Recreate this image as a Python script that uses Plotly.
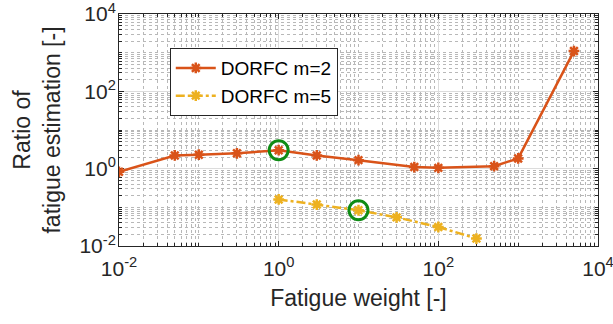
import plotly.graph_objects as go

# Data
w_m2 = [0.01, 0.05, 0.1, 0.3, 1, 3, 10, 50, 100, 500, 1000, 5000]
r_m2 = [0.83, 2.2, 2.3, 2.5, 3.0, 2.2, 1.66, 1.1, 1.05, 1.16, 1.84, 1100]
w_m5 = [1, 3, 10, 30, 100, 300]
r_m5 = [0.16, 0.118, 0.084, 0.055, 0.031, 0.0156]
w_sel = [1, 10]
r_sel = [3.0, 0.084]

tick_vals = [1e-2, 1, 1e2, 1e4]
x_tick_text = ["10<sup>-2</sup>", "10<sup>0</sup>", "10<sup>2</sup>", "10<sup>4</sup>"]
y_tick_text = ["10<sup>-2</sup>", "10<sup>0</sup>", "10<sup>2</sup>", "10<sup>4</sup>"]

FONT = "Liberation Sans, Arial, Helvetica"
INK = "#262626"

def minor_vals(lo, hi):
    vals = []
    for e in range(lo, hi):
        for m in range(1, 10):
            v = m * 10 ** e
            if v not in tick_vals:
                vals.append(v)
    return vals

fig = go.Figure()
fig.add_trace(go.Scatter(
    x=w_m2, y=r_m2, mode="lines+markers", name="DORFC m=2",
    line=dict(color="#D95319", width=2.5),
    marker=dict(symbol="asterisk-open", size=9, color="#D95319",
                line=dict(color="#D95319", width=2.5))))
fig.add_trace(go.Scatter(
    x=w_m5, y=r_m5, mode="lines+markers", name="DORFC m=5",
    line=dict(color="#EDB120", width=2.5, dash="dashdot"),
    marker=dict(symbol="asterisk-open", size=9, color="#EDB120",
                line=dict(color="#EDB120", width=2.5))))
fig.add_trace(go.Scatter(
    x=w_sel, y=r_sel, mode="markers", showlegend=False,
    marker=dict(symbol="circle-open", size=19, color="#0E8C14",
                line=dict(color="#0E8C14", width=3))))

axis_common = dict(
    type="log", showline=True, linecolor=INK, linewidth=1,
    mirror="allticks", ticks="inside", ticklen=5, tickcolor=INK,
    tickvals=tick_vals, showgrid=True, gridcolor="#dcdcdc", gridwidth=1,
    zeroline=False, tickfont=dict(family=FONT, size=21, color=INK),
    layer="below traces", automargin=False, range=[-2, 4],
    ticklabeloverflow="allow",
)
minor_common = dict(tickmode="array", tickvals=minor_vals(-2, 4), ticks="inside",
                    ticklen=3, tickcolor=INK, showgrid=True,
                    gridcolor="#b8b8b8", griddash="dot", gridwidth=1)

fig.update_xaxes(**axis_common, ticktext=x_tick_text, minor=minor_common,
                 ticklabelstandoff=4,
                 title=dict(text="Fatigue weight [-]", standoff=10,
                            font=dict(family=FONT, size=23, color=INK)))
fig.update_yaxes(**axis_common, ticktext=y_tick_text, minor=minor_common,
                 ticklabelstandoff=-2,
                 title=dict(text="Ratio of<br>fatigue estimation [-]", standoff=12,
                            font=dict(family=FONT, size=23, color=INK)))

fig.update_layout(
    width=613, height=324,
    margin=dict(l=119, r=15, t=14, b=78),
    paper_bgcolor="white", plot_bgcolor="white",
    font=dict(family=FONT, color=INK),
    legend=dict(x=0.106, y=0.853, xanchor="left", yanchor="top",
                bgcolor="white", bordercolor=INK, borderwidth=1,
                font=dict(family=FONT, size=19, color="#000000"),
                itemwidth=40, tracegroupgap=0),
)

fig.write_html("out.html", config={"displayModeBar": False},
               post_script="document.body.style.margin='0';document.body.style.overflow='hidden';")
